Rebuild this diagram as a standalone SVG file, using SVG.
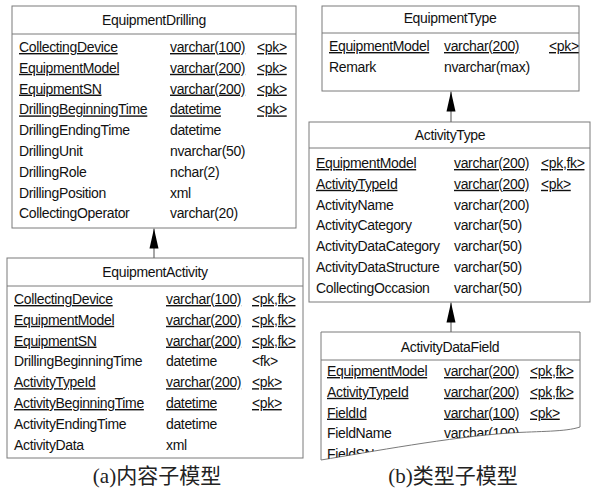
<svg xmlns="http://www.w3.org/2000/svg" width="591" height="490" viewBox="0 0 591 490">
<style>
.box{fill:#fff;stroke:#7a7a7a;stroke-width:1}
.sep{stroke:#7a7a7a;stroke-width:1}
text{font-family:"Liberation Sans",Arial,sans-serif;font-size:14px;letter-spacing:-0.35px;fill:#111}
.h{text-anchor:middle}
.u{text-decoration:underline}
.cap{font-family:"Liberation Serif","Noto Sans CJK SC",serif;font-size:21px;letter-spacing:0;text-anchor:middle;fill:#222}
.con{stroke:#6a6a6a;stroke-width:1.2;fill:none}
</style>
<defs>
<marker id="arr" markerUnits="userSpaceOnUse" markerWidth="20" markerHeight="10" viewBox="0 0 20 10" refX="20" refY="5" orient="auto">
<path d="M0,0.5 L20,5 L0,9.5 Z" fill="#000"/>
</marker>
<clipPath id="torn"><path d="M321,360 L580,360 L580,427 C565,432 540,431 510,433 C450,437 370,452 321,460 Z"/></clipPath>
</defs>
<rect width="591" height="490" fill="#fff"/>

<g id="EquipmentDrilling">
<rect class="box" x="12" y="6" width="284" height="222"/>
<line class="sep" x1="12" y1="34" x2="296" y2="34"/>
<text class="h" x="154" y="25">EquipmentDrilling</text>
<text class="u" x="19" y="52">CollectingDevice</text><text class="u" x="170" y="52">varchar(100)</text><text class="u" x="257" y="52">&lt;pk&gt;</text>
<text class="u" x="19" y="72.8">EquipmentModel</text><text class="u" x="170" y="72.8">varchar(200)</text><text class="u" x="257" y="72.8">&lt;pk&gt;</text>
<text class="u" x="19" y="93.6">EquipmentSN</text><text class="u" x="170" y="93.6">varchar(200)</text><text class="u" x="257" y="93.6">&lt;pk&gt;</text>
<text class="u" x="19" y="114.4">DrillingBeginningTime</text><text class="u" x="170" y="114.4">datetime</text><text class="u" x="257" y="114.4">&lt;pk&gt;</text>
<text x="19" y="135.2">DrillingEndingTime</text><text x="170" y="135.2">datetime</text>
<text x="19" y="156">DrillingUnit</text><text x="170" y="156">nvarchar(50)</text>
<text x="19" y="176.8">DrillingRole</text><text x="170" y="176.8">nchar(2)</text>
<text x="19" y="197.6">DrillingPosition</text><text x="170" y="197.6">xml</text>
<text x="19" y="218.4">CollectingOperator</text><text x="170" y="218.4">varchar(20)</text>
</g>

<g id="EquipmentActivity">
<rect class="box" x="7" y="258" width="296" height="200"/>
<line class="sep" x1="7" y1="286" x2="303" y2="286"/>
<text class="h" x="155" y="277">EquipmentActivity</text>
<text class="u" x="14" y="304">CollectingDevice</text><text class="u" x="166" y="304">varchar(100)</text><text class="u" x="252" y="304">&lt;pk,fk&gt;</text>
<text class="u" x="14" y="324.8">EquipmentModel</text><text class="u" x="166" y="324.8">varchar(200)</text><text class="u" x="252" y="324.8">&lt;pk,fk&gt;</text>
<text class="u" x="14" y="345.6">EquipmentSN</text><text class="u" x="166" y="345.6">varchar(200)</text><text class="u" x="252" y="345.6">&lt;pk,fk&gt;</text>
<text x="14" y="366.4">DrillingBeginningTime</text><text x="166" y="366.4">datetime</text><text x="252" y="366.4">&lt;fk&gt;</text>
<text class="u" x="14" y="387.2">ActivityTypeId</text><text class="u" x="166" y="387.2">varchar(200)</text><text class="u" x="252" y="387.2">&lt;pk&gt;</text>
<text class="u" x="14" y="408">ActivityBeginningTime</text><text class="u" x="166" y="408">datetime</text><text class="u" x="252" y="408">&lt;pk&gt;</text>
<text x="14" y="428.8">ActivityEndingTime</text><text x="166" y="428.8">datetime</text>
<text x="14" y="449.6">ActivityData</text><text x="166" y="449.6">xml</text>
</g>

<g id="EquipmentType">
<rect class="box" x="322" y="6" width="257" height="85"/>
<line class="sep" x1="322" y1="33" x2="579" y2="33"/>
<text class="h" x="450" y="23">EquipmentType</text>
<text class="u" x="329" y="51">EquipmentModel</text><text class="u" x="444" y="51">varchar(200)</text><text class="u" x="549" y="51">&lt;pk&gt;</text>
<text x="329" y="72">Remark</text><text x="444" y="72">nvarchar(max)</text>
</g>

<g id="ActivityType">
<rect class="box" x="309" y="122" width="281" height="180"/>
<line class="sep" x1="309" y1="148" x2="590" y2="148"/>
<text class="h" x="450" y="140">ActivityType</text>
<text class="u" x="316" y="168">EquipmentModel</text><text class="u" x="454" y="168">varchar(200)</text><text class="u" x="541" y="168">&lt;pk,fk&gt;</text>
<text class="u" x="316" y="188.8">ActivityTypeId</text><text class="u" x="454" y="188.8">varchar(200)</text><text class="u" x="541" y="188.8">&lt;pk&gt;</text>
<text x="316" y="209.6">ActivityName</text><text x="454" y="209.6">varchar(200)</text>
<text x="316" y="230.4">ActivityCategory</text><text x="454" y="230.4">varchar(50)</text>
<text x="316" y="251.2">ActivityDataCategory</text><text x="454" y="251.2">varchar(50)</text>
<text x="316" y="272">ActivityDataStructure</text><text x="454" y="272">varchar(50)</text>
<text x="316" y="292.8">CollectingOccasion</text><text x="454" y="292.8">varchar(50)</text>
</g>

<g id="ActivityDataField">
<path class="box" d="M321,460 L321,332 L580,332 L580,427 C565,432 540,431 510,433 C450,437 370,452 321,460 Z"/>
<line class="sep" x1="321" y1="360" x2="580" y2="360"/>
<text class="h" x="450" y="352">ActivityDataField</text>
<g clip-path="url(#torn)">
<text class="u" x="327" y="376">EquipmentModel</text><text class="u" x="444" y="376">varchar(200)</text><text class="u" x="530" y="376">&lt;pk,fk&gt;</text>
<text class="u" x="327" y="396.8">ActivityTypeId</text><text class="u" x="444" y="396.8">varchar(200)</text><text class="u" x="530" y="396.8">&lt;pk,fk&gt;</text>
<text class="u" x="327" y="417.6">FieldId</text><text class="u" x="444" y="417.6">varchar(100)</text><text class="u" x="530" y="417.6">&lt;pk&gt;</text>
<text x="327" y="438.4">FieldName</text><text x="444" y="438.4">varchar(100)</text>
<text x="327" y="459.2">FieldSN</text>
</g>
</g>

<g id="connectors">
<line class="con" x1="154" y1="258" x2="154" y2="228.5" marker-end="url(#arr)"/>
<line class="con" x1="451" y1="122" x2="451" y2="91.5" marker-end="url(#arr)"/>
<line class="con" x1="451" y1="332" x2="451" y2="302.5" marker-end="url(#arr)"/>
</g>

<text class="cap" x="157" y="483">(a)内容子模型</text>
<text class="cap" x="453" y="483">(b)类型子模型</text>
</svg>
